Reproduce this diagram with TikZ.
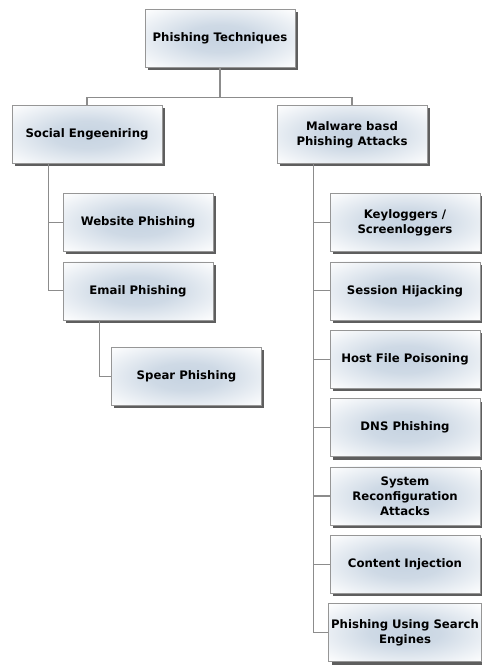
\documentclass[tikz,border=0pt]{standalone}
\usepackage{fontspec}
\setmainfont{DejaVu Sans}
\usetikzlibrary{positioning,shadows}

\definecolor{boxglow}{RGB}{198,211,225}
\definecolor{boxedge}{RGB}{150,150,150}
\definecolor{linkgrey}{RGB}{140,140,140}

\pgfdeclareradialshading{glow}{\pgfpoint{0bp}{0bp}}{%
  color(0bp)=(boxglow); color(12bp)=(boxglow!85!white); color(36bp)=(white); color(50bp)=(white)}

\tikzset{
  topic/.style={draw=boxedge, line width=0.6pt,
    minimum width=4.5cm, minimum height=1.74cm, inner sep=2pt,
    align=center, shading=glow,
    font=\bfseries\fontsize{10}{13}\selectfont,
    drop shadow={shadow xshift=2.5pt, shadow yshift=-2.5pt, fill=black!70, opacity=0.9}},
  link/.style={draw=linkgrey, line width=1pt}
}

\begin{document}
\begin{tikzpicture}[node distance=0.29cm]
  \useasboundingbox (0,0) rectangle (14.43,-19.98);

  \node[topic] (root) at (6.6,-1.155) {Phishing Techniques};
  \node[topic] (social) at (2.61,-4.035) {Social Engeeniring};
  \node[topic] (malware) at (10.56,-4.035) {Malware basd\\Phishing Attacks};

  \node[topic] (web) at (4.14,-6.675) {Website Phishing};
  \node[topic, below=of web] (email) {Email Phishing};
  \node[topic] (spear) at (5.595,-11.295) {Spear Phishing};

  \node[topic] (keys) at (12.15,-6.675) {Keyloggers /\\Screenloggers};
  \node[topic, below=of keys] (session) {Session Hijacking};
  \node[topic, below=of session] (hosts) {Host File Poisoning};
  \node[topic, below=of hosts] (dns) {DNS Phishing};
  \node[topic, below=of dns] (reconf) {System\\Reconfiguration\\Attacks};
  \node[topic, below=of reconf] (inject) {Content Injection};
  \node[topic, below=of inject] (search) {Phishing Using Search\\Engines};

  \draw[link] (root.south) -- ++(0,-0.9) -| (social.north);
  \draw[link] (root.south) -- ++(0,-0.9) -| (malware.north);
  \draw[link] ([xshift=1.1cm]social.south west) |- (web.west);
  \draw[link] ([xshift=1.1cm]social.south west) |- (email.west);
  \draw[link] ([xshift=1.1cm]email.south west) |- (spear.west);
  \foreach \n in {keys,session,hosts,dns,reconf,inject,search}
    \draw[link] ([xshift=1.1cm]malware.south west) |- (\n.west);
\end{tikzpicture}
\end{document}
